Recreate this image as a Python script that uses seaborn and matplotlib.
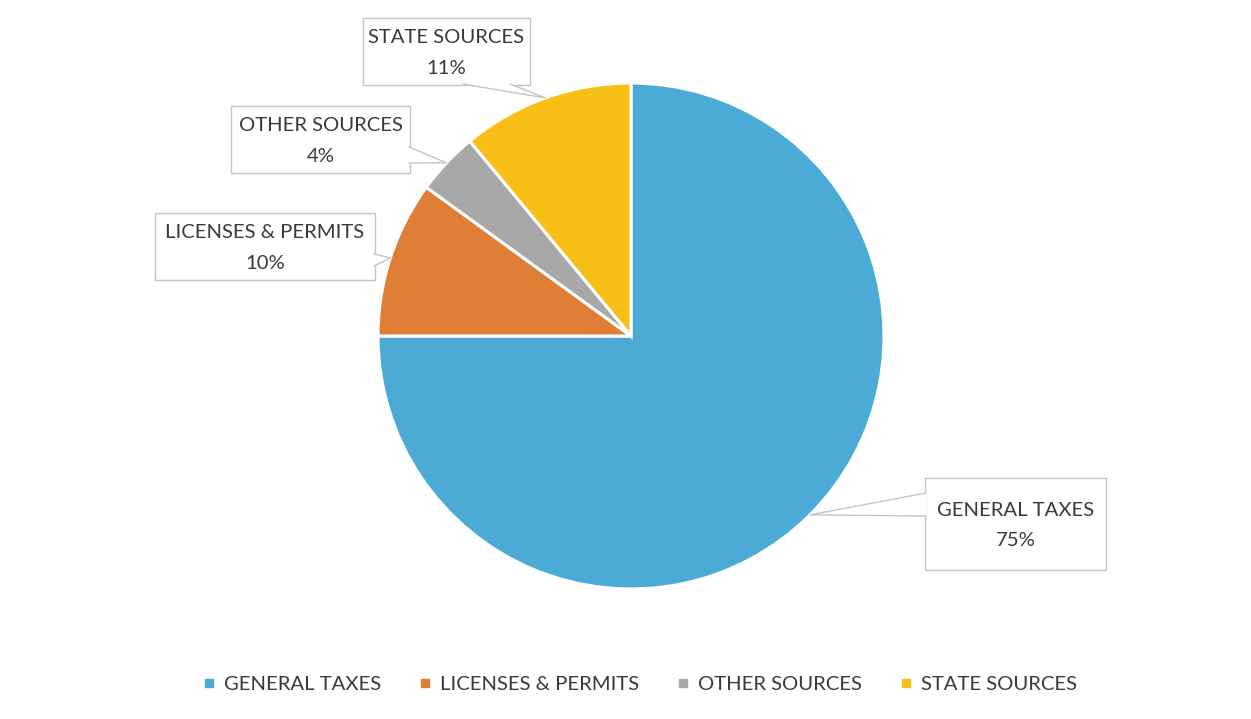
import matplotlib
matplotlib.use("Agg")
import matplotlib.pyplot as plt
import seaborn as sns
import numpy as np
from matplotlib.patches import Rectangle, Polygon
from matplotlib.lines import Line2D

categories = ["GENERAL TAXES", "LICENSES & PERMITS", "OTHER SOURCES", "STATE SOURCES"]
values = [75, 10, 4, 11]
colors = ["#4BABD6", "#E07E36", "#A8A8A8", "#F8BF17"]

sns.set_theme(style="white")
plt.rcParams['font.family'] = ['Lato', 'DejaVu Sans']

W, H = 1251, 719
fig = plt.figure(figsize=(W / 100, H / 100), dpi=100)
ax = fig.add_axes([0, 0, 1, 1])

def Y(py):
    return H - py

cx, cy, R = 631, Y(336), 253
wedges, _ = ax.pie(values, colors=sns.color_palette(colors), startangle=90, counterclock=False,
                   center=(cx, cy), radius=R, frame=True,
                   wedgeprops=dict(edgecolor="white", linewidth=2.2))
ax.set_xlim(0, W)
ax.set_ylim(0, H)
ax.set_aspect('equal')
ax.axis('off')

# label box layout (pixel coords: left, top, right, bottom) and pointer base on box edge
boxes = {
    "GENERAL TAXES": dict(box=(925, 478, 1106, 570), base=((926, 493), (926, 516))),
    "LICENSES & PERMITS": dict(box=(155, 213, 375, 280), base=((374, 254), (374, 266))),
    "OTHER SOURCES": dict(box=(231, 106, 410, 173), base=((409, 147), (409, 163))),
    "STATE SOURCES": dict(box=(363, 18, 530, 85), base=((463, 84), (510, 84))),
}

edge_col = "#C4C4C4"
txt_col = "#3A3A3A"
for w, cat, val in zip(wedges, categories, values):
    ang = np.deg2rad((w.theta1 + w.theta2) / 2)
    tx, ty = cx + R * np.cos(ang), cy + R * np.sin(ang)
    l, t, r, b = boxes[cat]["box"]
    ax.add_patch(Rectangle((l, Y(b)), r - l, b - t, facecolor="white", edgecolor=edge_col,
                           linewidth=1.0, zorder=3))
    (b1x, b1y), (b2x, b2y) = boxes[cat]["base"]
    ax.add_patch(Polygon([(b1x, Y(b1y)), (tx, ty), (b2x, Y(b2y))], closed=True,
                         facecolor="white", edgecolor="none", zorder=4))
    ax.plot([b1x, tx, b2x], [Y(b1y), ty, Y(b2y)], color=edge_col, lw=1.0, zorder=5)
    ax.text((l + r) / 2, Y((t + b) / 2 + 1.5), f"{cat}\n{val}%", ha="center", va="center",
            fontsize=14.6, color=txt_col, linespacing=1.95, zorder=6)

handles = [Line2D([0], [0], marker='s', linestyle='none', markersize=6,
                  markerfacecolor=c, markeredgecolor=c) for c in colors]
fig.legend(handles, categories, loc="center", bbox_to_anchor=(640 / W, 1 - 684 / H), ncol=4,
           frameon=False, fontsize=14.6, handlelength=0.6, handletextpad=0.45,
           columnspacing=1.85, labelcolor=txt_col)

fig.savefig("out.png", dpi=100, facecolor="white")
